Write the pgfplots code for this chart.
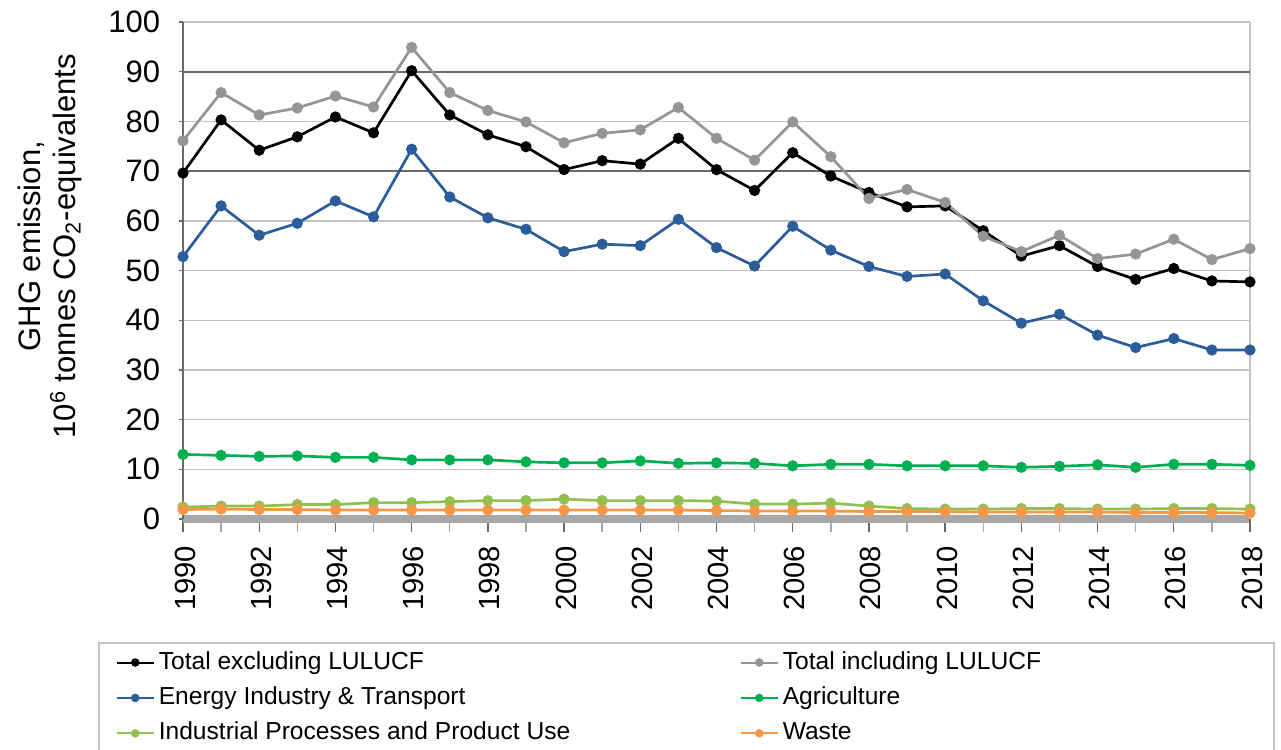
\documentclass[border=0pt]{standalone}
\usepackage{fontspec}
\setmainfont{Liberation Sans}
\usepackage{pgfplots}
\pgfplotsset{compat=1.18}
\usepackage{pgfplotstable}

\definecolor{cExcl}{HTML}{000000}
\definecolor{cIncl}{HTML}{959595}
\definecolor{cEnergy}{HTML}{2B5D9B}
\definecolor{cAgri}{HTML}{00B050}
\definecolor{cIndus}{HTML}{92C050}
\definecolor{cWaste}{HTML}{F79646}
\definecolor{gLight}{HTML}{C4C4C4}
\definecolor{gDark}{HTML}{6A6A6A}
\definecolor{gMid}{HTML}{A8A8A8}

\pgfplotstableread{
year excl incl energy agri indus waste
1990 69.6 76.1 52.8 13.0 2.4 1.9
1991 80.3 85.8 63.0 12.8 2.6 2.0
1992 74.2 81.3 57.1 12.6 2.6 1.9
1993 76.9 82.7 59.5 12.7 2.9 1.9
1994 80.9 85.1 64.0 12.4 2.9 1.8
1995 77.7 82.9 60.8 12.4 3.3 1.8
1996 90.2 94.9 74.4 11.9 3.3 1.8
1997 81.3 85.8 64.8 11.9 3.5 1.8
1998 77.3 82.2 60.6 11.9 3.7 1.8
1999 74.9 79.9 58.3 11.5 3.7 1.8
2000 70.3 75.7 53.8 11.3 4.0 1.8
2001 72.1 77.6 55.3 11.3 3.7 1.8
2002 71.4 78.3 55.0 11.7 3.7 1.8
2003 76.6 82.8 60.3 11.2 3.7 1.8
2004 70.3 76.6 54.6 11.3 3.6 1.7
2005 66.1 72.2 50.9 11.2 3.0 1.6
2006 73.7 79.9 58.9 10.7 3.0 1.6
2007 69.0 72.9 54.1 11.0 3.2 1.6
2008 65.7 64.5 50.8 11.0 2.6 1.5
2009 62.8 66.3 48.8 10.7 2.1 1.5
2010 63.0 63.7 49.3 10.7 2.0 1.5
2011 58.0 56.9 43.9 10.7 2.0 1.4
2012 52.9 53.8 39.4 10.4 2.1 1.4
2013 55.0 57.1 41.2 10.6 2.1 1.4
2014 50.8 52.4 37.0 10.9 2.0 1.4
2015 48.2 53.3 34.5 10.4 2.0 1.3
2016 50.4 56.3 36.3 11.0 2.1 1.3
2017 47.9 52.2 34.0 11.0 2.1 1.3
2018 47.7 54.4 34.0 10.8 2.0 1.2
}\data

\begin{document}
\begin{tikzpicture}
\useasboundingbox (-91.5pt,-115.5pt) rectangle (549pt,259.5pt);
\begin{axis}[
  at={(0,0)}, anchor=south west,
  width=533.5pt, height=248.5pt, scale only axis,
  xmin=1990, xmax=2018, ymin=0, ymax=100,
  xtick={1990,1992,...,2018},
  minor xtick={1991,1993,...,2017},
  ytick={0,10,...,100},
  minor ytick={60},
  axis x line*=bottom, axis y line*=left,
  axis line style={-},
  x axis line style={line width=3.8pt, color=gMid, -},
  y axis line style={line width=1pt, color=gDark, -},
  tick align=outside,
  xtick style={color=gDark, line width=0.7pt, /pgfplots/major tick length=6.5pt, /pgfplots/minor tick length=6.5pt},
  minor x tick style={color=gMid, line width=0.7pt},
  ytick style={color=gDark, line width=0.7pt, /pgfplots/major tick length=2pt, /pgfplots/minor tick length=0pt},
  ymajorgrids, yminorgrids,
  major grid style={color=gLight, line width=0.7pt},
  minor grid style={color=gMid, line width=1.3pt},
  extra y ticks={70,90},
  extra y tick labels={},
  extra y tick style={grid=major, major grid style={color=gDark, line width=0.9pt}, /pgfplots/major tick length=0pt},
  extra x ticks={2018},
  extra x tick labels={},
  extra x tick style={grid=major, major grid style={color=gLight, line width=0.9pt}, /pgfplots/major tick length=0pt},
  /pgf/number format/assume math mode=true,
  /pgf/number format/1000 sep={},
  yticklabel style={font=\fontsize{15.5}{18}\selectfont, inner sep=0pt, xshift=-7pt},
  xticklabel style={font=\fontsize{14.6}{18}\selectfont, rotate=90, anchor=east, inner sep=0pt, xshift=-9pt, yshift=-1pt},
  ylabel={GHG emission,\\10\textsuperscript{6} tonnes CO\textsubscript{2}-equivalents},
  every axis y label/.style={at={(axis description cs:-0.1247,0.549)}, rotate=90, anchor=center, align=center, font=\fontsize{15.5}{17.5}\selectfont},
  every axis plot/.append style={line width=1.35pt, mark=*, mark size=2.1pt},
  legend columns=2,
  legend cell align=left,
  legend image code/.code={\draw[mark repeat=2,mark phase=2, line width=1pt, mark size=1.6pt] plot coordinates {(0pt,0pt) (9.25pt,0pt) (18.5pt,0pt)};},
  legend style={at={(-0.0797,-0.2475)}, anchor=north west, draw=gLight, line width=0.8pt,
    inner xsep=8.5pt, inner ysep=1pt, font=\fontsize{12.3}{14}\selectfont,
    nodes={inner xsep=2pt, inner ysep=3.1pt, text height=9pt, text depth=2.5pt},
    /tikz/every even column/.append style={column sep=0pt}},
]
\addplot[color=cExcl] table[x=year,y=excl]{\data};
\addlegendentry{\makebox[288.5pt][l]{Total excluding LULUCF}}
\addplot[color=cIncl] table[x=year,y=incl]{\data};
\addlegendentry{\makebox[235pt][l]{Total including LULUCF}}
\addplot[color=cEnergy] table[x=year,y=energy]{\data};
\addlegendentry{\makebox[288.5pt][l]{Energy Industry \& Transport}}
\addplot[color=cAgri] table[x=year,y=agri]{\data};
\addlegendentry{\makebox[235pt][l]{Agriculture}}
\addplot[color=cIndus] table[x=year,y=indus]{\data};
\addlegendentry{\makebox[288.5pt][l]{Industrial Processes and Product Use}}
\addplot[color=cWaste] table[x=year,y=waste]{\data};
\addlegendentry{\makebox[235pt][l]{Waste}}
\end{axis}
\end{tikzpicture}
\end{document}
